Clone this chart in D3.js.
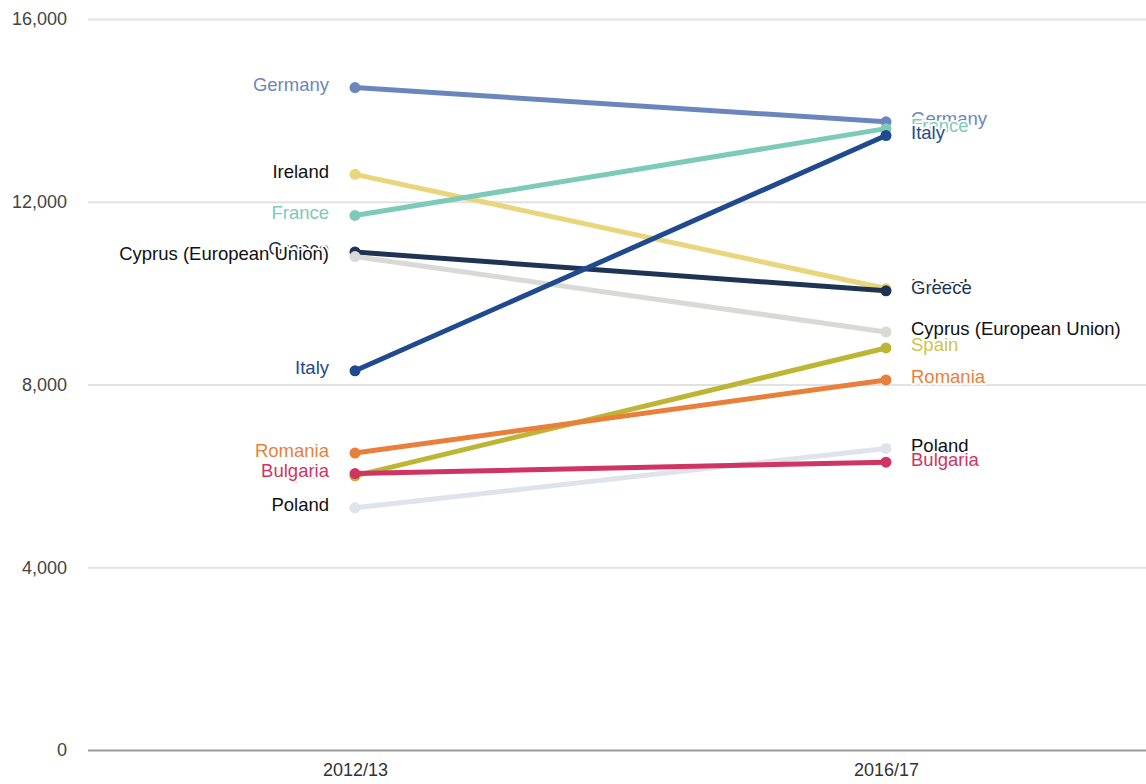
<!DOCTYPE html>
<html><head><meta charset="utf-8">
<script src="https://cdn.jsdelivr.net/npm/d3@7"></script>
<style>
body{margin:0;background:#fff;}
svg{display:block;}
</style></head>
<body>
<svg id="c" width="1146" height="784"></svg>
<script>
const periods = ["2012/13", "2016/17"];
const countries = ["Poland", "Ireland", "Greece", "Cyprus (European Union)", "Spain", "Romania", "Bulgaria", "Germany", "France", "Italy"];
const values2012 = [5300, 12600, 10900, 10800, 6000, 6500, 6050, 14500, 11700, 8300];
const values2016 = [6600, 10100, 10050, 9150, 8800, 8100, 6300, 13750, 13600, 13450];
const lineColors = ["#dfe3ec", "#e9d67c", "#1e3454", "#d9d9d5", "#bdb634", "#e8803c", "#d03462", "#6b86bd", "#7ecab9", "#1f4a8f"];
const labelColors = ["#111111", "#111111", "#1e3454", "#111111", "#cdc548", "#e8803c", "#d03462", "#6b86bd", "#7ecab9", "#1f4a8f"];
const yTicks = [0, 4000, 8000, 12000, 16000];

const FONT = "Liberation Sans, Arial, sans-serif";
const svg = d3.select("#c");
const x = d3.scalePoint().domain(periods).range([355, 886]);
const y = d3.scaleLinear().domain([0, 16000]).range([750, 19]);

// gridlines
const yAxis = d3.axisLeft(y).tickValues(yTicks).tickSize(0).tickFormat(d3.format(","));
const gy = svg.append("g").attr("transform", "translate(88,0)").call(yAxis);
gy.select(".domain").remove();
gy.selectAll("text").attr("x", -21).attr("fill", "#444").style("font-family", FONT).style("font-size", "18px");
gy.selectAll(".tick").append("line").attr("x1", 0).attr("x2", 1058)
  .attr("stroke", d => d === 0 ? "#9a9a9a" : "#e2e2e2").attr("stroke-width", 2);

// x axis labels
const xAxis = d3.axisBottom(x).tickSize(0);
const gx = svg.append("g").attr("transform", "translate(0,751)").call(xAxis);
gx.select(".domain").remove();
gx.selectAll("text").attr("y", 12).attr("fill", "#333").style("font-family", FONT).style("font-size", "18px");

const data = countries.map((c, i) => ({name: c, v: [values2012[i], values2016[i]], color: lineColors[i], lc: labelColors[i]}));

const line = d3.line().x((d, j) => x(periods[j])).y(d => y(d));

const g = svg.append("g");
data.forEach(d => {
  g.append("path").attr("d", line(d.v)).attr("fill", "none").attr("stroke", d.color).attr("stroke-width", 5).attr("stroke-linecap", "round");
  d.v.forEach((v, j) => {
    g.append("circle").attr("cx", x(periods[j])).attr("cy", y(v)).attr("r", 5.5).attr("fill", d.color);
  });
});

const lg = svg.append("g").style("font-family", FONT).style("font-size", "18.5px");
data.forEach(d => {
  lg.append("text").attr("x", x(periods[0]) - 26).attr("y", y(d.v[0]) - 3).attr("dy", "0.35em")
    .attr("text-anchor", "end").attr("fill", d.lc)
    .attr("stroke", "#fff").attr("stroke-width", 4).attr("paint-order", "stroke").attr("stroke-linejoin", "round")
    .text(d.name);
  lg.append("text").attr("x", x(periods[1]) + 25).attr("y", y(d.v[1]) - 3).attr("dy", "0.35em")
    .attr("text-anchor", "start").attr("fill", d.lc)
    .attr("stroke", "#fff").attr("stroke-width", 4).attr("paint-order", "stroke").attr("stroke-linejoin", "round")
    .text(d.name);
});
</script>
</body></html>
